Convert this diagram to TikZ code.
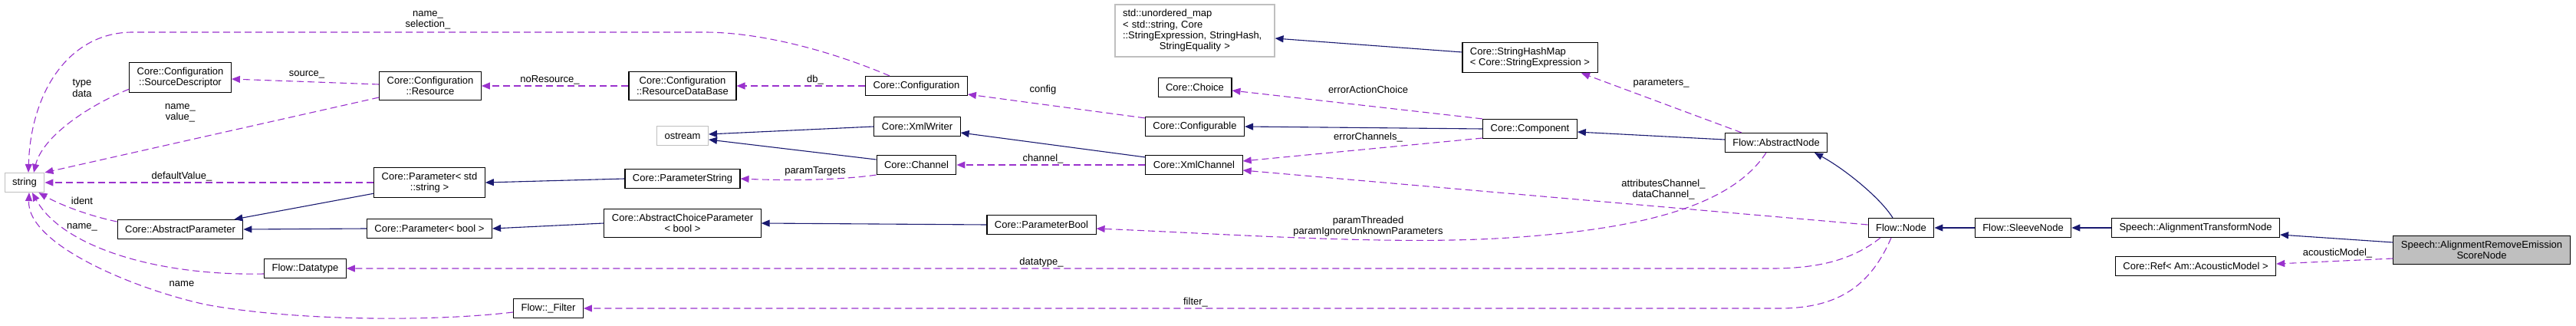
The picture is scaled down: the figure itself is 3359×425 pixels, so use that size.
\documentclass[tikz,border=0pt]{standalone}
\usepackage{fontspec}
\setmainfont{Liberation Sans}
\usepackage{xcolor}
\usepackage{tikz}
\usetikzlibrary{arrows.meta, positioning}
\definecolor{EdgeNavy}{HTML}{191970}
\definecolor{EdgeOrchid}{HTML}{9A32CD}
\definecolor{GreyBox}{HTML}{BFBFBF}

\begin{document}
\begin{tikzpicture}[
    x=1pt, y=-1pt,
    classbox/.style={draw=black, fill=white, line width=1.1pt, inner xsep=10pt, inner ysep=6.5pt, minimum height=25pt, align=center, font=\fontsize{13}{14.3}\selectfont},
    extbox/.style={classbox, draw=GreyBox},
    mainbox/.style={classbox, fill=GreyBox},
    inherit/.style={-{Triangle[length=11pt, width=9pt]}, line width=1.1pt, draw=EdgeNavy},
    member/.style={-{Triangle[length=11pt, width=9pt]}, line width=1.1pt, draw=EdgeOrchid, dash pattern=on 9pt off 5pt},
    edgelabel/.style={inner sep=0pt, align=center, font=\fontsize{13}{14.3}\selectfont}
]
\useasboundingbox (0,0) rectangle (3359,425);

% Left column: string and configuration classes
\node[extbox] (String) at (32,238) {string};
\node[classbox] (SrcDesc) at (235,101) {Core::Configuration\\::SourceDescriptor};
\node[classbox] (AbsParam) at (235,299) {Core::AbstractParameter};
\node[classbox] (Datatype) at (398,350) {Flow::Datatype};
\node[classbox] (Resource) at (561,112) {Core::Configuration\\::Resource};
\node[classbox] (ParStr) at (560,238) {Core::Parameter< std\\::string >};
\node[classbox] (ParBool) at (560,298) {Core::Parameter< bool >};
\node[classbox] (Filter) at (715,402) {Flow::\_Filter};

% Middle columns
\node[classbox] (ResDataBase) at (890,112) {Core::Configuration\\::ResourceDataBase};
\node[extbox] (Ostream) at (890,177) {ostream};
\node[classbox] (ParamString) at (890,233) {Core::ParameterString};
\node[classbox] (AbsChoice) at (890,291) {Core::AbstractChoiceParameter\\< bool >};
\node[classbox] (Config) at (1195,112) {Core::Configuration};
\node[classbox] (XmlWriter) at (1196,165) {Core::XmlWriter};
\node[classbox] (Channel) at (1195,215) {Core::Channel};
\node[classbox] (ParamBool) at (1358,293) {Core::ParameterBool};
\node[extbox, align=left, text width=188pt] (UnorderedMap) at (1558,40) {std::unordered\_map\\< std::string, Core\\::StringExpression, StringHash,\\\makebox[188pt][c]{StringEquality >}};
\node[classbox] (Choice) at (1558,114) {Core::Choice};
\node[classbox] (Configurable) at (1558,165) {Core::Configurable};
\node[classbox] (XmlChannel) at (1557,215) {Core::XmlChannel};

% Right columns: flow and speech nodes
\node[classbox, align=left] (StrHashMap) at (1995,75) {Core::StringHashMap\\< Core::StringExpression >};
\node[classbox] (Component) at (1995,168) {Core::Component};
\node[classbox] (AbsNode) at (2316,186) {Flow::AbstractNode};
\node[classbox] (FlowNode) at (2479,297) {Flow::Node};
\node[classbox] (SleeveNode) at (2638,297) {Flow::SleeveNode};
\node[classbox] (AlignTrans) at (2863,297) {Speech::AlignmentTransformNode};
\node[classbox] (AcousticRef) at (2863,347) {Core::Ref< Am::AcousticModel >};
\node[mainbox] (RemoveEmission) at (3236,326) {Speech::AlignmentRemoveEmission\\ScoreNode};

% Inheritance (solid navy)
\draw[inherit] ([yshift=6pt]ParStr.south west) -- ([xshift=-12pt]AbsParam.north east);
\draw[inherit] (ParBool.west) -- (AbsParam.east);
\draw[inherit] (ParamString.west) -- (ParStr.east);
\draw[inherit] (AbsChoice.west) -- (ParBool.east);
\draw[inherit] (ParamBool.west) -- (AbsChoice.east);
\draw[inherit] (XmlWriter.west) -- ([yshift=2pt]Ostream.east);
\draw[inherit] ([yshift=7pt]Channel.west) -- ([yshift=-5pt]Ostream.east);
\draw[inherit] ([yshift=-3pt]XmlChannel.north west) -- ([yshift=-8pt]XmlWriter.east);
\draw[inherit] (Component.west) -- (Configurable.east);
\draw[inherit] ([yshift=7pt]StrHashMap.west) -- ([yshift=-10pt]UnorderedMap.east);
\draw[inherit] ([yshift=4pt]AbsNode.west) -- ([yshift=-4pt]Component.east);
\draw[inherit] ([xshift=-11pt]FlowNode.north) .. controls (2452,258) and (2405,220) .. ([xshift=50pt]AbsNode.south);
\draw[inherit] (SleeveNode.west) -- (FlowNode.east);
\draw[inherit] (AlignTrans.west) -- (SleeveNode.east);
\draw[inherit] ([yshift=10pt]RemoveEmission.west) -- ([yshift=-9pt]AlignTrans.east);

% Members (dashed orchid)
\draw[member] ([xshift=-35pt]Config.north) .. controls (1080,65) and (990,42) .. (918,42) -- (173,42) .. controls (90,42) and (40,120) .. ([xshift=5pt]String.north);
\draw[member] ([yshift=-15pt]Resource.west) -- (String.north east);
\draw[member] ([yshift=5pt]SrcDesc.south west) .. controls (110,140) and (55,180) .. ([xshift=12pt]String.north);
\draw[member] ([yshift=2pt]Resource.west) -- ([yshift=-2pt]SrcDesc.east);
\draw[member] (ResDataBase.west) -- (Resource.east);
\draw[member] (Config.west) -- (ResDataBase.east);
\draw[member] (ParStr.west) -- (String.east);
\draw[member] ([yshift=10pt]AbsParam.west) .. controls (110,280) and (75,265) .. ([xshift=-8pt]String.south east);
\draw[member] ([yshift=-7pt]Datatype.west) .. controls (200,360) and (80,320) .. ([xshift=10pt]String.south);
\draw[member] ([yshift=-5pt]Filter.west) .. controls (560,420) and (380,418) .. (268,397) .. controls (180,378) and (35,320) .. ([xshift=6pt]String.south);
\draw[member] (Channel.south west) .. controls (1100,234) and (1040,236) .. (ParamString.east);
\draw[member] ([yshift=-2pt]Configurable.north west) -- ([yshift=-11pt]Config.east);
\draw[member] (XmlChannel.west) -- (Channel.east);
\draw[member] (Component.north west) -- ([yshift=-4pt]Choice.east);
\draw[member] ([yshift=-12pt]Component.west) -- ([yshift=5pt]XmlChannel.east);
\draw[member] ([yshift=4pt]FlowNode.west) -- ([yshift=-7pt]XmlChannel.east);
\draw[member] ([xshift=-45pt]AbsNode.north) -- ([xshift=67pt]StrHashMap.south);
\draw[member] ([xshift=-13pt]AbsNode.south) .. controls (2260,265) and (2150,300) .. (1950,311) .. controls (1800,319) and (1600,305) .. ([yshift=-5pt]ParamBool.east);
\draw[member] ([xshift=-27pt]FlowNode.south) .. controls (2420,335) and (2380,350) .. (2310,350) -- (Datatype.east);
\draw[member] ([xshift=-13pt]FlowNode.south) .. controls (2440,370) and (2400,402) .. (2320,402) -- (Filter.east);
\draw[member] ([yshift=-11pt]RemoveEmission.west) -- ([yshift=3pt]AcousticRef.east);

% Member labels
\node[edgelabel] (lblSelection) at (558,26) {name\_\\selection\_};
\node[edgelabel] (lblValue) at (235,147) {name\_\\value\_};
\node[edgelabel] (lblData) at (107,115) {type\\data};
\node[edgelabel] (lblSource) at (400,97) {source\_};
\node[edgelabel] (lblNoResource) at (717,104) {noResource\_};
\node[edgelabel] (lblDb) at (1063,104) {db\_};
\node[edgelabel] (lblDefault) at (237,230) {defaultValue\_};
\node[edgelabel] (lblIdent) at (107,262) {ident};
\node[edgelabel] (lblName) at (107,296) {name\_};
\node[edgelabel] (lblFilterName) at (237,370) {name};
\node[edgelabel] (lblTargets) at (1063,223) {paramTargets};
\node[edgelabel] (lblConfig) at (1360,117) {config};
\node[edgelabel] (lblChannel) at (1360,207) {channel\_};
\node[edgelabel] (lblErrChoice) at (1784,117) {errorActionChoice};
\node[edgelabel] (lblErrChannels) at (1784,179) {errorChannels\_};
\node[edgelabel] (lblDataChannel) at (2169,247) {attributesChannel\_\\dataChannel\_};
\node[edgelabel] (lblParameters) at (2166,109) {parameters\_};
\node[edgelabel] (lblThreaded) at (1784,295) {paramThreaded\\paramIgnoreUnknownParameters};
\node[edgelabel] (lblDatatype) at (1358,342) {datatype\_};
\node[edgelabel] (lblFilter) at (1559,394) {filter\_};
\node[edgelabel] (lblAcoustic) at (3048,330) {acousticModel\_};

\end{tikzpicture}
\end{document}
